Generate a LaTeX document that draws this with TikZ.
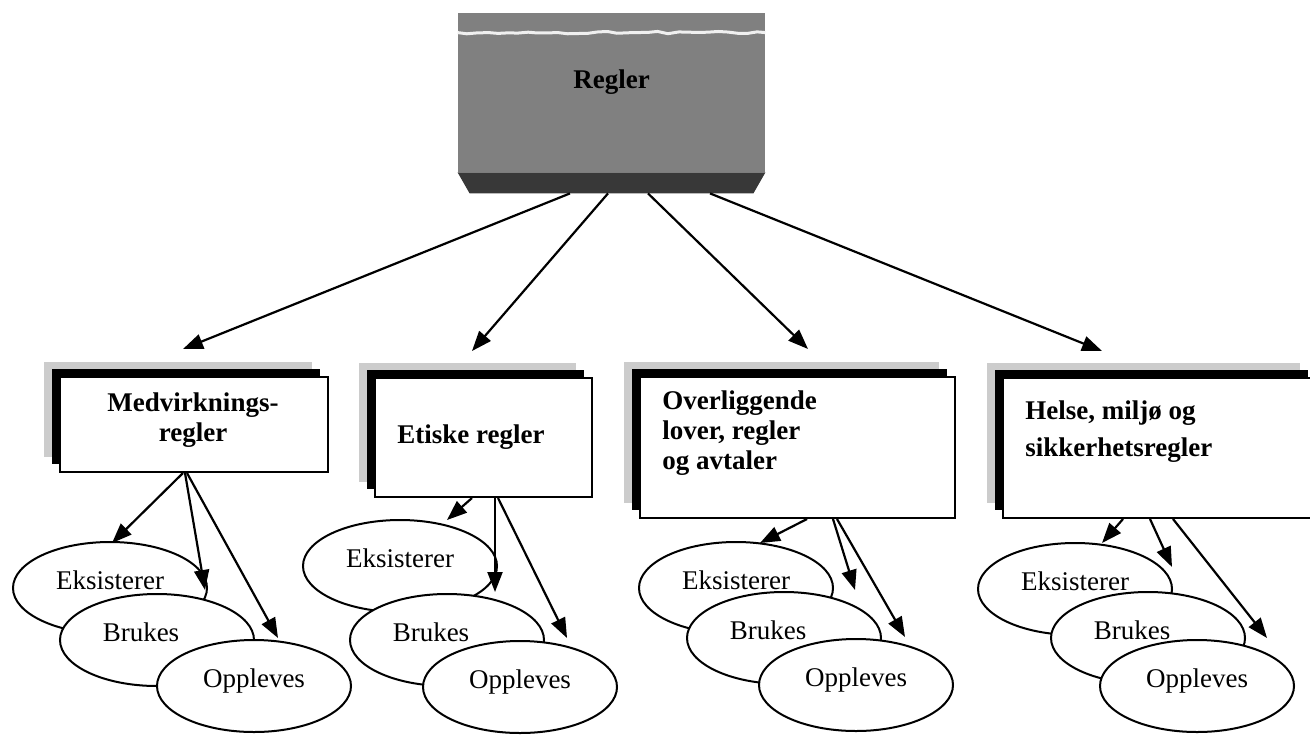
\documentclass[tikz,border=0pt]{standalone}
\usepackage{fontspec}
\setmainfont{Liberation Serif}
\usetikzlibrary{arrows.meta,shapes.geometric,shadows,decorations.pathmorphing}
\tikzset{
  catbox/.style={rectangle,draw,line width=1pt,fill=white,inner sep=0pt,
    general shadow={fill=gray!40,shadow xshift=-8pt,shadow yshift=7.5pt},
    general shadow={fill=black,shadow xshift=-4pt,shadow yshift=4pt}},
  cattext/.style={font=\fontsize{13.5}{15}\selectfont\bfseries,align=left,inner sep=0pt},
  oval/.style={ellipse,draw,line width=1pt,fill=white,minimum width=97pt,minimum height=46pt,
    inner sep=0pt,text height=9.5pt,text depth=8pt,font=\fontsize{13.5}{15}\selectfont},
  arr/.style={line width=1.1pt,-{Triangle[length=10pt,width=7.5pt]}}
}
\begin{document}
\begin{tikzpicture}[x=0.5pt,y=-0.5pt]
\useasboundingbox(0,0)rectangle(1310,734);
%main box
\node[fill=black!50,minimum width=153.5pt,minimum height=79.5pt,inner sep=0pt](regler)at(611.5,92.5){};
\draw[gray!12,line width=1.5pt,decorate,decoration={random steps,segment length=5pt,amplitude=.6pt}]([yshift=-10pt]regler.north west)--([yshift=-10pt]regler.north east);
\fill[black!78](regler.south west)--(regler.south east)--([shift={(-12,21)}]regler.south east)--([shift={(12,21)}]regler.south west)--cycle;
\node[cattext](reglertxt)at(611.5,82){Regler};
%rule boxes
\node[catbox,minimum width=134pt,minimum height=47.5pt](medv)at(194,424.5){};
\node[catbox,minimum width=108.5pt,minimum height=59.5pt](etisk)at(483.5,437.5){};
\node[catbox,minimum width=157.5pt,minimum height=70.5pt](lover)at(797.5,447.5){};
\node[catbox,minimum width=156.5pt,minimum height=70pt](helse)at(1159.5,448){};
\node[cattext,align=center](medvtxt)at(193,420){Medvirknings-\\regler};
\node[cattext,anchor=west](etisktxt)at(397,437){Etiske regler};
\node[cattext,anchor=west](lovertxt)at(662,433){Overliggende\\lover, regler\\og avtaler};
\node[cattext,anchor=west](helsetxt)at(1025,431.5){Helse, miljø og\\[3.5pt]sikkerhetsregler};
%ellipses
\node[oval](eks1)at(110,588){Eksisterer};
\node[oval](bru1)at(157,640){Brukes\hspace*{16pt}};
\node[oval](opp1)at(254,686){Oppleves};
\node[oval](eks2)at(400,566){Eksisterer};
\node[oval](bru2)at(447,640){Brukes\hspace*{16pt}};
\node[oval](opp2)at(520,687){Oppleves};
\node[oval](eks3)at(736,588){Eksisterer};
\node[oval](bru3)at(784,638){Brukes\hspace*{16pt}};
\node[oval](opp3)at(856,685){Oppleves};
\node[oval](eks4)at(1075,589){Eksisterer};
\node[oval](bru4)at(1148,638){Brukes\hspace*{16pt}};
\node[oval](opp4)at(1197,686){Oppleves};
%arrows from main box
\draw[arr]([shift={(-41.5,21)}]regler.south)--([shift={(-11,-27)}]medv.north);
\draw[arr]([shift={(-3.5,21)}]regler.south)--([shift={(-11.5,-26)}]etisk.north);
\draw[arr]([shift={(36.5,21)}]regler.south)--([shift={(10.5,-27)}]lover.north);
\draw[arr]([shift={(98.5,21)}]regler.south)--([shift={(-57.5,-26)}]helse.north);
%arrows to ellipses
\draw[arr]([xshift=-5.5pt]medv.south)--([shift={(2,-45)}]eks1.center);
\draw[arr]([xshift=-4.5pt]medv.south)--([shift={(48,-50)}]bru1.center);
\draw[arr]([xshift=-3.5pt]medv.south)--([shift={(24,-48)}]opp1.center);
\draw[arr]([xshift=-5.75pt]etisk.south)--([shift={(47,-46)}]eks2.center);
\draw[arr]([xshift=5.75pt]etisk.south)--([shift={(48,-48)}]bru2.center);
\draw[arr]([xshift=7.25pt]etisk.south)--([shift={(47,-49)}]opp2.center);
\draw[arr]([xshift=4.75pt]lover.south)--([shift={(24,-45)}]eks3.center);
\draw[arr]([xshift=17.75pt]lover.south)--([shift={(71,-48)}]bru3.center);
\draw[arr]([xshift=19.75pt]lover.south)--([shift={(49,-48)}]opp3.center);
\draw[arr]([xshift=-18.25pt]helse.south)--([shift={(27,-46)}]eks4.center);
\draw[arr]([xshift=-4.75pt]helse.south)--([shift={(24,-71)}]bru4.center);
\draw[arr]([xshift=6.75pt]helse.south)--([shift={(70,-48)}]opp4.center);
\end{tikzpicture}
\end{document}
